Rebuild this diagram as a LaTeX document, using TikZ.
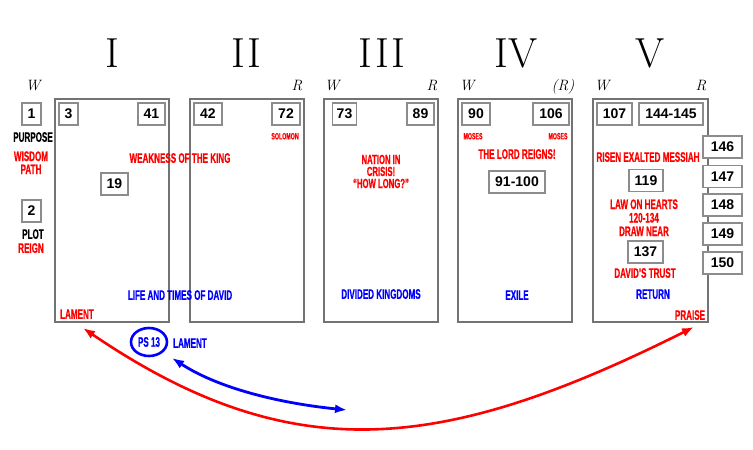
\documentclass[tikz,border=0pt]{standalone}
\usepackage{fontspec}
\newfontfamily\cond[FakeStretch=0.585,BoldFeatures={FakeBold=0.6}]{Liberation Sans}
\newfontfamily\numf{Liberation Sans}
\usetikzlibrary{arrows.meta,shapes.geometric}
\definecolor{rd}{RGB}{255,0,0}
\definecolor{bl}{RGB}{0,0,255}
\tikzset{
  roman/.style={anchor=base,inner sep=0pt,font=\fontsize{42}{42}\selectfont},
  wr/.style={anchor=base,inner sep=0pt,font=\fontsize{15}{15}\selectfont\itshape},
  panel/.style={draw=black!55,line width=1.3pt,minimum width=114pt,minimum height=223pt,inner sep=0pt},
  numbox/.style={draw=black!45,line width=1.3pt,fill=white,minimum height=22pt,inner sep=0pt,font=\numf\bfseries\fontsize{14}{14}\selectfont},
  lab/.style={anchor=base,inner sep=0pt,align=center,font=\cond\bfseries\fontsize{13.8}{13.8}\selectfont},
  small/.style={anchor=base,inner sep=0pt,font=\cond\bfseries\fontsize{9}{9}\selectfont,text=rd},
  redarrow/.style={draw=rd,line width=2.6pt,{Latex[length=12pt,width=9pt]}-{Latex[length=12pt,width=9pt]}},
  bluearrow/.style={draw=bl,line width=2.8pt,{Latex[length=12pt,width=9pt]}-{Latex[length=12pt,width=9pt]}},
}
\begin{document}
\begin{tikzpicture}[x=1pt,y=-1pt]
\useasboundingbox (0,0) rectangle (753,450);
% roman numerals
\node[roman] (rI) at (112,67) {I};
\node[roman] (rII) at (246.5,67) {I\hspace{3pt}I};
\node[roman] (rIII) at (382,67) {I\hspace{3pt}I\hspace{3pt}I};
\node[roman] (rIV) at (516,67) {IV};
\node[roman] (rV) at (650,67) {V};
% W / R
\node[wr] (w1) at (33,90) {W};
\node[wr] (r2) at (297,90) {R};
\node[wr] (w3) at (332,90) {W};
\node[wr] (r3) at (432,90) {R};
\node[wr] (w4) at (467,90) {W};
\node[wr] (r4) at (563,90) {(R)};
\node[wr] (w5) at (602,90) {W};
\node[wr] (r5) at (701,90) {R};
% panels
\node[panel] (p1) at (112,210.5) {};
\node[panel] (p2) at (247,210.5) {};
\node[panel] (p3) at (381,210.5) {};
\node[panel] (p4) at (515,210.5) {};
\node[panel,minimum width=115pt] (p5) at (650.5,210.5) {};
% number boxes
\node[numbox,minimum width=19pt] (n1) at (31.5,114) {1};
\node[numbox,minimum width=19pt] (n2) at (31.5,211) {2};
\node[numbox,minimum width=19pt] (n3) at (68.5,114) {3};
\node[numbox,minimum width=27pt] (n41) at (151.5,114) {41};
\node[numbox,minimum width=27pt] (n19) at (114.5,184) {19};
\node[numbox,minimum width=28pt] (n42) at (208,114) {42};
\node[numbox,minimum width=28pt] (n72) at (286,114) {72};
\node[numbox,minimum width=24pt] (n73) at (344.5,114) {73};
\node[numbox,minimum width=27pt] (n89) at (420.5,114) {89};
\node[numbox,minimum width=28pt] (n90) at (476,114) {90};
\node[numbox,minimum width=36pt] (n106) at (551,114) {106};
\node[numbox,minimum width=56pt] (n91) at (517,182) {91-100};
\node[numbox,minimum width=35pt] (n107) at (614.5,114) {107};
\node[numbox,minimum width=64pt] (n144) at (671,114) {144-145};
\node[numbox,minimum width=39pt] (n146) at (722.5,147) {146};
\node[numbox,minimum width=39pt] (n147) at (722.5,176.5) {147};
\node[numbox,minimum width=39pt] (n148) at (722.5,205) {148};
\node[numbox,minimum width=39pt] (n149) at (722.5,234) {149};
\node[numbox,minimum width=39pt] (n150) at (722.5,263) {150};
\node[numbox,minimum width=34pt] (n119) at (646,180.5) {119};
\node[numbox,minimum width=35pt] (n137) at (645.5,252) {137};
% labels (multi-line nodes: base = last line)
\node[lab] (purpose) at (33,141.8) {PURPOSE};
\node[lab,text=rd,font=\cond\bfseries\fontsize{13.8}{13}\selectfont] (wisdom) at (31,174) {WISDOM\\PATH};
\node[lab] (plot) at (33,238.8) {PLOT};
\node[lab,text=rd] (reign) at (31,252.8) {REIGN};
\node[lab,text=rd] (weak) at (180,162.8) {WEAKNESS OF THE KING};
\node[small] (solomon) at (285,139.3) {SOLOMON};
\node[lab,text=bl] (life) at (180,299.8) {LIFE AND TIMES OF DAVID};
\node[lab,text=rd] (lament1) at (77,318.8) {LAMENT};
\node[draw=bl,line width=2.6pt,ellipse,minimum width=36pt,minimum height=28pt,inner sep=0pt,text=bl,font=\cond\bfseries\fontsize{13.8}{13.8}\selectfont] (ps) at (149,342) {PS 13};
\node[lab,text=bl] (lament2) at (190,347.8) {LAMENT};
\node[lab,text=rd,font=\cond\bfseries\fontsize{13.2}{12}\selectfont] (nation) at (381,188) {NATION IN\\CRISIS!\\“HOW LONG?”};
\node[lab,text=bl] (divided) at (381,298.8) {DIVIDED KINGDOMS};
\node[small] (moses1) at (473,139.3) {MOSES};
\node[small] (moses2) at (558,139.3) {MOSES};
\node[lab,text=rd] (lord) at (517,158.8) {THE LORD REIGNS!};
\node[lab,text=bl] (exile) at (517,299.8) {EXILE};
\node[lab,text=rd] (risen) at (648,161.8) {RISEN EXALTED MESSIAH};
\node[lab,text=rd,font=\cond\bfseries\fontsize{13.8}{13.5}\selectfont] (law) at (644,236) {LAW ON HEARTS\\120-134\\DRAW NEAR};
\node[lab,text=rd] (david) at (645,277.8) {DAVID’S TRUST};
\node[lab,text=bl] (return) at (653,298.8) {RETURN};
\node[lab,text=rd] (praise) at (690,319.8) {PRAISE};
% arrows
\coordinate (redL) at (83,328);
\coordinate (redR) at (694,327);
\coordinate (blueL) at (172,358);
\coordinate (blueR) at (347,410);
\draw[redarrow] (redL) .. controls (293,471) and (444,452) .. (redR);
\draw[bluearrow] (blueL) .. controls (222,390.5) and (287,404) .. (blueR);
\end{tikzpicture}
\end{document}
